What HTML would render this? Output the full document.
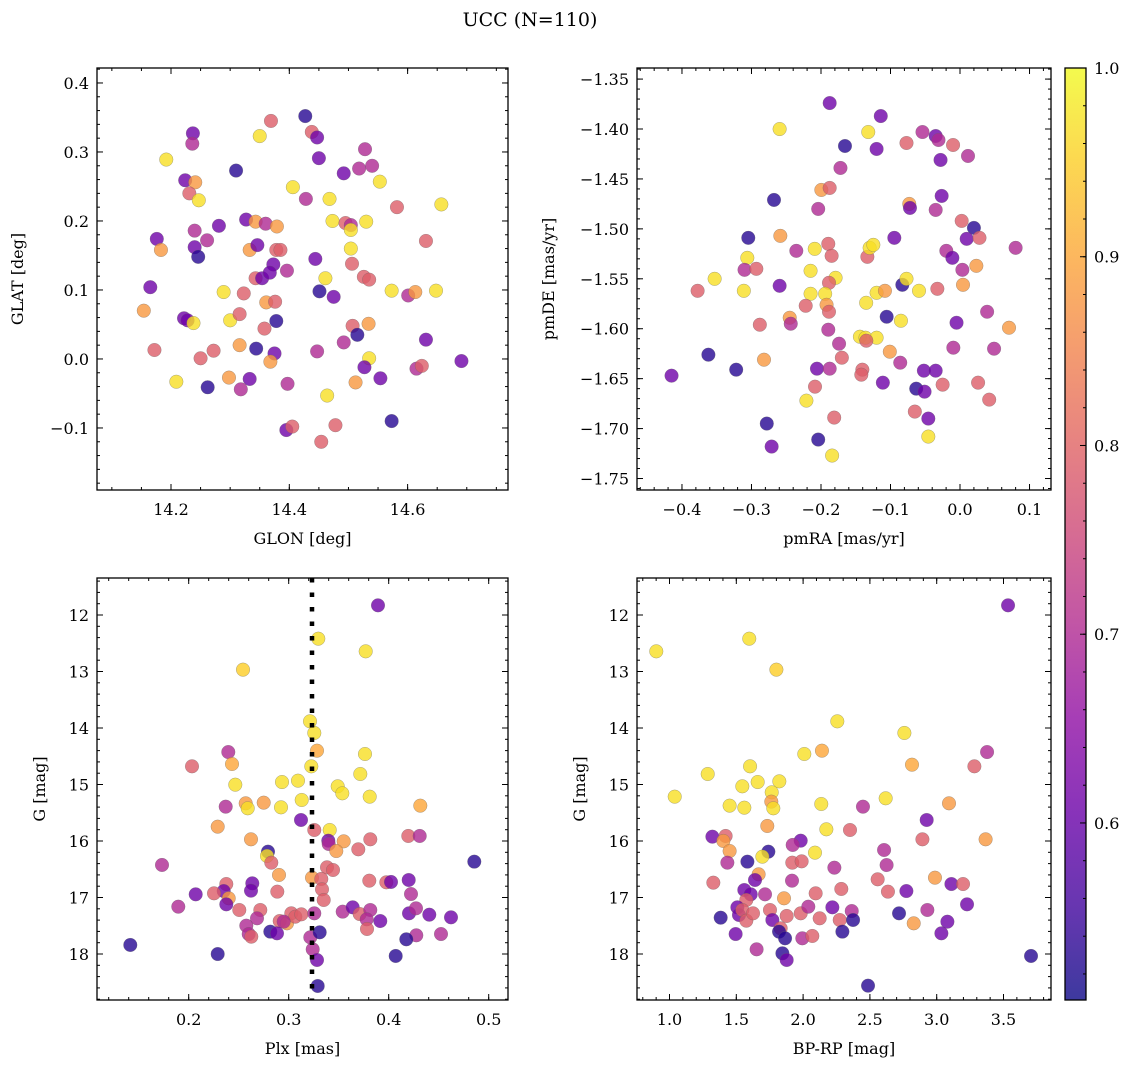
<!DOCTYPE html>
<html><head><meta charset="utf-8">
<style>
html,body{margin:0;padding:0;background:#fff;}
svg{display:block;font-family:"DejaVu Serif","Liberation Serif",serif;}
</style></head>
<body>
<svg id="fig" width="1136" height="1067" viewBox="0 0 1136 1067" xmlns="http://www.w3.org/2000/svg">
<rect x="0" y="0" width="1136" height="1067" fill="#fff"/>
<text x="530" y="26" font-size="19" text-anchor="middle">UCC (N=110)</text>
<defs>
<linearGradient id="plasmaGrad" x1="0" y1="1" x2="0" y2="0">
<stop offset="0" stop-color="#0d0887"/><stop offset="0.1" stop-color="#41049d"/><stop offset="0.2" stop-color="#6a00a8"/><stop offset="0.3" stop-color="#8f0da4"/><stop offset="0.4" stop-color="#b12a90"/><stop offset="0.5" stop-color="#cc4778"/><stop offset="0.6" stop-color="#e16462"/><stop offset="0.7" stop-color="#f2844b"/><stop offset="0.8" stop-color="#fca636"/><stop offset="0.9" stop-color="#fcce25"/><stop offset="1" stop-color="#f0f921"/>
</linearGradient>
</defs>
</svg>
<script>
// ---- Panel 1: GLON vs GLAT ----
const glon = [14.427,14.369,14.438,14.447,14.237,14.236,14.350,14.450,14.192,14.310,14.528,14.518,14.540,14.492,14.553,14.224,14.241,14.231,14.247,14.406,14.428,14.468,14.582,14.657,14.327,14.343,14.360,14.379,14.473,14.495,14.504,14.504,14.530,14.631,14.176,14.183,14.240,14.261,14.281,14.240,14.246,14.333,14.346,14.378,14.385,14.444,14.504,14.506,14.373,
14.343,14.354,14.367,14.396,14.461,14.526,14.535,14.165,14.289,14.323,14.361,14.376,14.451,14.475,14.573,14.601,14.613,14.648,14.154,14.222,14.228,14.238,14.300,14.316,14.358,14.378,14.507,14.534,14.515,14.492,14.631,14.172,14.250,14.272,14.316,14.344,14.375,14.368,14.447,14.535,14.527,14.615,14.624,14.691,14.209,14.262,14.298,14.333,14.318,14.397,14.512,14.554,14.464,14.573,14.395,14.405,14.478,14.454];
const glat = [0.352,0.345,0.329,0.321,0.327,0.312,0.323,0.291,0.289,0.273,0.304,0.276,0.280,0.269,0.257,0.259,0.256,0.240,0.230,0.249,0.232,0.232,0.220,0.224,0.202,0.199,0.196,0.192,0.200,0.197,0.194,0.187,0.199,0.171,0.174,0.158,0.186,0.172,0.193,0.162,0.148,0.158,0.165,0.158,0.158,0.145,0.160,0.138,0.137,
0.117,0.117,0.125,0.128,0.117,0.119,0.115,0.104,0.097,0.095,0.082,0.083,0.098,0.090,0.099,0.092,0.097,0.099,0.070,0.059,0.056,0.052,0.056,0.065,0.044,0.055,0.048,0.051,0.035,0.024,0.028,0.013,0.001,0.012,0.020,0.015,0.008,-0.004,0.011,0.001,-0.012,-0.014,-0.010,-0.003,-0.033,-0.041,-0.027,-0.029,-0.044,-0.036,-0.034,-0.028,-0.053,-0.090,-0.103,-0.098,-0.096,-0.120];
const prob1 = [0.53,0.79,0.79,0.61,0.61,0.70,0.97,0.61,0.97,0.53,0.70,0.70,0.70,0.61,0.97,0.61,0.88,0.79,0.97,0.97,0.70,0.97,0.79,0.97,0.61,0.88,0.70,0.88,0.97,0.79,0.70,0.97,0.97,0.79,0.61,0.88,0.70,0.70,0.61,0.61,0.53,0.88,0.61,0.79,0.79,0.61,0.97,0.79,0.61,
0.79,0.61,0.61,0.70,0.97,0.79,0.79,0.61,0.97,0.79,0.88,0.79,0.53,0.61,0.97,0.70,0.88,0.97,0.88,0.61,0.61,0.97,0.97,0.79,0.79,0.53,0.79,0.88,0.53,0.70,0.61,0.79,0.79,0.79,0.88,0.53,0.61,0.88,0.70,0.97,0.61,0.70,0.79,0.61,0.97,0.53,0.88,0.61,0.70,0.70,0.88,0.61,0.97,0.53,0.61,0.79,0.79,0.79];

// ---- Panel 2: pmRA vs pmDE ----
const pmra = [-0.1875,-0.2595,-0.114,-0.132,-0.1655,-0.120,-0.054,-0.035,-0.031,-0.010,-0.077,-0.028,0.0115,-0.172,-0.1995,-0.1875,-0.2676,-0.204,-0.073,-0.072,-0.0264,-0.035,0.0024,0.020,0.0096,0.028,-0.3046,-0.2585,-0.2355,-0.209,-0.1895,-0.1847,-0.1333,-0.130,-0.1247,-0.0945,-0.0197,-0.011,0.080,0.0034,0.0235,-0.306,-0.310,-0.293,-0.215,
-0.353,-0.3775,-0.311,-0.2595,-0.179,-0.1885,-0.215,-0.194,-0.192,-0.1885,-0.222,-0.245,-0.2435,-0.288,-0.362,-0.415,-0.322,-0.282,-0.2058,-0.1875,-0.174,-0.170,-0.1895,-0.135,-0.120,-0.108,-0.083,-0.077,-0.059,-0.0326,0.0043,0.039,-0.005,0.0705,-0.0096,0.049,-0.1055,-0.085,-0.144,-0.136,-0.120,-0.1348,-0.101,-0.086,-0.1405,-0.142,-0.111,-0.052,-0.035,-0.063,-0.051,-0.025,0.026,0.042,-0.065,-0.0456,-0.0456,-0.2086,-0.221,-0.181,-0.278,-0.271,-0.204,-0.184];
const pmde = [-1.374,-1.400,-1.387,-1.403,-1.417,-1.420,-1.403,-1.407,-1.411,-1.416,-1.414,-1.431,-1.427,-1.439,-1.461,-1.459,-1.471,-1.480,-1.475,-1.479,-1.467,-1.481,-1.492,-1.499,-1.510,-1.509,-1.509,-1.507,-1.522,-1.520,-1.515,-1.527,-1.528,-1.519,-1.516,-1.509,-1.522,-1.529,-1.519,-1.541,-1.537,-1.529,-1.541,-1.540,-1.542,
-1.550,-1.562,-1.562,-1.557,-1.549,-1.554,-1.565,-1.565,-1.576,-1.583,-1.577,-1.589,-1.595,-1.596,-1.626,-1.647,-1.641,-1.631,-1.640,-1.640,-1.615,-1.629,-1.601,-1.574,-1.564,-1.562,-1.556,-1.550,-1.562,-1.560,-1.556,-1.583,-1.594,-1.599,-1.619,-1.620,-1.588,-1.592,-1.608,-1.609,-1.609,-1.612,-1.623,-1.634,-1.641,-1.646,-1.654,-1.642,-1.642,-1.660,-1.663,-1.656,-1.654,-1.671,-1.683,-1.690,-1.708,-1.658,-1.672,-1.689,-1.695,-1.718,-1.711,-1.727];
const prob2 = [0.61,0.97,0.61,0.97,0.53,0.61,0.70,0.61,0.70,0.79,0.79,0.61,0.70,0.70,0.88,0.79,0.53,0.70,0.88,0.61,0.61,0.70,0.79,0.53,0.61,0.79,0.53,0.88,0.70,0.97,0.79,0.79,0.79,0.97,0.97,0.61,0.70,0.61,0.70,0.70,0.88,0.97,0.70,0.79,0.97,
0.97,0.79,0.97,0.61,0.97,0.79,0.97,0.97,0.88,0.79,0.79,0.88,0.70,0.79,0.53,0.61,0.53,0.88,0.61,0.70,0.70,0.79,0.70,0.97,0.97,0.88,0.53,0.97,0.97,0.79,0.88,0.70,0.61,0.88,0.70,0.70,0.53,0.97,0.97,0.97,0.97,0.79,0.88,0.70,0.79,0.79,0.61,0.61,0.61,0.53,0.61,0.79,0.79,0.79,0.79,0.61,0.97,0.79,0.97,0.79,0.53,0.61,0.53,0.97];

// ---- Panel 3: Plx vs G ----
const plx = [0.3893,0.3296,0.377,0.2543,0.3213,0.3256,0.3283,0.3763,0.2396,0.3226,0.3716,0.2033,0.2433,0.2466,0.2933,0.3093,0.349,
0.3536,0.381,0.237,0.257,0.259,0.275,0.2923,0.313,0.4316,0.3123,0.229,0.2623,0.3256,0.341,0.3396,0.34,0.355,0.3476,0.3696,0.3816,0.4196,0.431,0.2793,0.2783,0.2826,0.1733,0.4856,0.3383,0.3443,0.2903,0.3233,0.3326,0.3333,0.335,0.3806,0.3976,0.4023,0.42,0.4223,0.2376,0.235,0.2636,0.2623,0.2253,0.240,0.2376,0.207,0.2886,0.1896,0.2506,0.2716,0.2683,0.2576,0.260,0.2626,0.291,0.2983,0.3026,0.3066,0.3126,0.295,0.2816,0.2883,0.3256,0.354,0.364,0.371,0.3816,0.378,0.3783,0.3916,0.4203,0.4273,0.4406,0.4623,0.4523,0.4276,0.4176,0.407,0.3216,0.331,0.324,0.3283,0.329,0.1416,0.229];
const gmag3 = [11.829,12.419,12.643,12.967,13.882,14.088,14.401,14.460,14.425,14.678,14.814,14.678,14.637,15.003,14.956,14.932,15.032,
15.156,15.215,15.392,15.333,15.421,15.321,15.404,15.274,15.374,15.628,15.746,15.970,15.805,15.805,15.994,16.053,16.006,16.177,16.147,15.970,15.911,15.911,16.188,16.265,16.383,16.424,16.365,16.466,16.513,16.601,16.649,16.672,16.855,17.044,16.702,16.731,16.725,16.690,16.938,16.761,16.885,16.749,16.879,16.926,17.014,17.121,16.944,16.896,17.162,17.221,17.221,17.368,17.498,17.646,17.693,17.416,17.457,17.280,17.339,17.298,17.427,17.604,17.634,17.280,17.250,17.174,17.292,17.221,17.386,17.557,17.416,17.280,17.192,17.304,17.351,17.646,17.669,17.740,18.035,17.705,17.616,17.917,18.106,18.566,17.840,18.000];
const prob3 = [0.61,0.97,0.97,0.95,0.97,0.97,0.90,0.97,0.70,0.97,0.97,0.79,0.90,0.97,0.97,0.97,0.97,
0.97,0.97,0.70,0.88,0.97,0.88,0.97,0.97,0.90,0.61,0.88,0.88,0.79,0.97,0.61,0.70,0.88,0.88,0.79,0.79,0.79,0.70,0.53,0.97,0.79,0.70,0.53,0.79,0.79,0.88,0.88,0.79,0.79,0.79,0.79,0.79,0.61,0.61,0.70,0.79,0.61,0.61,0.61,0.79,0.88,0.61,0.61,0.79,0.70,0.79,0.79,0.70,0.70,0.70,0.79,0.79,0.88,0.79,0.79,0.79,0.70,0.53,0.61,0.70,0.70,0.61,0.79,0.70,0.70,0.79,0.61,0.61,0.70,0.61,0.61,0.70,0.70,0.53,0.53,0.70,0.53,0.70,0.61,0.53,0.53,0.53];

// ---- Panel 4: BP-RP vs G ----
const bprp = [3.534,0.901,1.597,1.800,2.256,2.758,3.377,3.282,2.815,2.141,2.009,1.603,1.286,1.545,1.660,1.822,
1.039,1.450,1.560,1.765,1.762,1.777,2.136,2.618,2.448,3.092,1.732,2.174,2.351,2.925,1.321,1.420,1.403,1.450,1.433,1.583,1.740,1.695,1.667,1.982,1.922,1.919,1.989,2.089,2.234,1.917,1.328,1.560,1.640,1.608,1.575,1.715,1.857,2.094,2.286,1.508,1.520,1.545,1.575,1.625,1.383,1.495,1.652,1.752,1.770,1.832,1.820,1.865,1.845,1.877,1.877,1.982,2.039,2.124,1.994,2.069,2.219,2.274,2.364,2.374,2.294,2.558,2.606,2.625,2.635,2.773,2.718,2.828,2.930,2.893,2.987,3.110,3.197,3.227,3.080,3.035,3.366,3.706,2.486];
const gmag4 = [11.829,12.643,12.419,12.967,13.882,14.088,14.425,14.678,14.649,14.401,14.460,14.678,14.814,15.032,14.956,14.944,
15.215,15.374,15.410,15.138,15.303,15.421,15.345,15.244,15.392,15.333,15.734,15.793,15.805,15.628,15.923,15.911,15.999,16.177,16.383,16.365,16.188,16.277,16.590,15.994,16.070,16.383,16.360,16.206,16.472,16.702,16.737,16.867,16.690,16.944,17.044,16.944,17.014,16.926,16.849,17.174,17.309,17.221,17.410,17.280,17.357,17.646,17.917,17.221,17.398,17.545,17.604,17.722,17.988,18.106,17.327,17.280,17.162,17.368,17.722,17.681,17.174,17.398,17.239,17.398,17.604,16.678,16.159,16.425,16.896,16.885,17.280,17.457,17.221,15.970,16.649,16.761,16.761,17.121,17.428,17.634,15.970,18.035,18.560];
const prob4 = [0.61,0.97,0.97,0.95,0.97,0.97,0.70,0.79,0.90,0.90,0.97,0.97,0.97,0.97,0.97,0.97,
0.97,0.97,0.97,0.97,0.88,0.97,0.97,0.97,0.70,0.88,0.88,0.97,0.79,0.61,0.61,0.79,0.88,0.88,0.70,0.53,0.53,0.97,0.88,0.61,0.70,0.79,0.79,0.97,0.70,0.70,0.79,0.61,0.61,0.61,0.79,0.70,0.88,0.79,0.79,0.61,0.61,0.79,0.79,0.79,0.53,0.61,0.70,0.79,0.61,0.79,0.53,0.53,0.53,0.61,0.79,0.79,0.70,0.79,0.70,0.79,0.61,0.79,0.70,0.53,0.53,0.79,0.70,0.70,0.79,0.61,0.53,0.88,0.70,0.79,0.88,0.61,0.79,0.61,0.61,0.61,0.88,0.53,0.53];

// ---- Tick labels ----
const p1xTicks = [14.2,14.4,14.6];
const p1yTicks = [-0.1,0.0,0.1,0.2,0.3,0.4];
const p2xTicks = [-0.4,-0.3,-0.2,-0.1,0.0,0.1];
const p2yTicks = [-1.75,-1.70,-1.65,-1.60,-1.55,-1.50,-1.45,-1.40,-1.35];
const p3xTicks = [0.2,0.3,0.4,0.5];
const gTicks = [12,13,14,15,16,17,18];
const p4xTicks = [1.0,1.5,2.0,2.5,3.0,3.5];
const cbTicks = [0.6,0.7,0.8,0.9,1.0];
const plxRef = [0.3233];
const cbRange = [0.5062, 1.0];

const NS = "http://www.w3.org/2000/svg";
const svg = document.getElementById("fig");
function mk(tag, attrs, parent){
  const e = document.createElementNS(NS, tag);
  for (const k in attrs) e.setAttribute(k, attrs[k]);
  (parent||svg).appendChild(e);
  return e;
}
const plasmaStops = [[13,8,135],[65,4,157],[106,0,168],[143,13,164],[177,42,144],[204,71,120],[225,100,98],[242,132,75],[252,166,54],[252,206,37],[240,249,33]];
function plasma(t){
  t = Math.max(0, Math.min(1, t));
  const f = t*10, i = Math.min(9, Math.floor(f)), r = f - i;
  const a = plasmaStops[i], b = plasmaStops[i+1];
  return "rgb(" + [0,1,2].map(k => Math.round(a[k] + (b[k]-a[k])*r)).join(",") + ")";
}
function colorOf(p){ return plasma((p - cbRange[0])/(cbRange[1]-cbRange[0])); }
function fmtMinus(s){ return s.replace("-", "\u2212"); }

function panel(cfg){
  const {name, box, xd, yd, xMaj, yMaj, xMinStep, yMinStep, xDec, yDec, xs, ys, ps, xTitle, yTitle, yTitleX} = cfg;
  const [L,R,T,B] = box;
  const g = mk("g", {});
  
  
  const sx = v => L + (v - xd[0])/(xd[1]-xd[0])*(R-L);
  const sy = v => T + (v - yd[0])/(yd[1]-yd[0])*(B-T);
  const tg = mk("g", {stroke:"#000","stroke-width":"1"}, g);
  
  
  const xlo = Math.min(xd[0],xd[1]), xhi = Math.max(xd[0],xd[1]);
  for (let v = Math.ceil(xlo/xMinStep)*xMinStep; v <= xhi+1e-9; v += xMinStep){
    const x = sx(v);
    mk("line",{x1:x,x2:x,y1:B,y2:B-3},tg); mk("line",{x1:x,x2:x,y1:T,y2:T+3},tg);
  }
  const ylo = Math.min(yd[0],yd[1]), yhi = Math.max(yd[0],yd[1]);
  for (let v = Math.ceil(ylo/yMinStep-1e-6)*yMinStep; v <= yhi+1e-9; v += yMinStep){
    const y = sy(v);
    mk("line",{x1:L,x2:L+3,y1:y,y2:y},tg); mk("line",{x1:R,x2:R-3,y1:y,y2:y},tg);
  }
  xMaj.forEach(v => {
    const x = sx(v);
    mk("line",{x1:x,x2:x,y1:B,y2:B-6},tg); mk("line",{x1:x,x2:x,y1:T,y2:T+6},tg);
    const t = mk("text",{x:x,y:B+25,"font-size":"16","text-anchor":"middle"},g);
    
    
    t.textContent = fmtMinus(v.toFixed(xDec));
  });
  yMaj.forEach(v => {
    const y = sy(v);
    mk("line",{x1:L,x2:L+6,y1:y,y2:y},tg); mk("line",{x1:R,x2:R-6,y1:y,y2:y},tg);
    const t = mk("text",{x:L-8,y:y+6,"font-size":"16","text-anchor":"end"},g);
    
    
    t.textContent = fmtMinus(v.toFixed(yDec));
  });
  const pg = mk("g", {}, g);
  
  
  for (let i = 0; i < xs.length; i++){
    const c = mk("circle",{cx:sx(xs[i]),cy:sy(ys[i]),r:"6.8",fill:colorOf(ps[i]),"fill-opacity":"0.8",stroke:"#666","stroke-opacity":"0.55","stroke-width":"0.5"},pg);
    
    
  }
  if (cfg.vline){
    cfg.vline.forEach(v => {
      const l = mk("line",{x1:sx(v),x2:sx(v),y1:T,y2:B,stroke:"#000","stroke-width":"4.5","stroke-dasharray":"4.5 10"},g);
      
      
    });
  }
  const fr = mk("rect",{x:L,y:T,width:R-L,height:B-T,fill:"none",stroke:"#000","stroke-width":"1.3"},g);
  
  
  const xt = mk("text",{x:(L+R)/2,y:B+54,"font-size":"16","text-anchor":"middle"},g);
  
  
  xt.textContent = xTitle;
  const yc = (T+B)/2;
  const yt = mk("text",{x:yTitleX,y:yc,"font-size":"16","text-anchor":"middle",transform:`rotate(-90 ${yTitleX} ${yc})`},g);
  
  
  yt.textContent = yTitle;
}

panel({name:"glon-glat-panel", box:[97,508,68,490], xd:[14.0749,14.7697], yd:[0.4217,-0.1899],
  xMaj:p1xTicks, yMaj:p1yTicks, xMinStep:0.05, yMinStep:0.02, xDec:1, yDec:1,
  xs:glon, ys:glat, ps:prob1, xTitle:"GLON [deg]", yTitle:"GLAT [deg]", yTitleX:23});
panel({name:"pm-panel", box:[637,1051,68,490], xd:[-0.4647,0.1309], yd:[-1.3389,-1.7615],
  xMaj:p2xTicks, yMaj:p2yTicks, xMinStep:0.02, yMinStep:0.01, xDec:1, yDec:2,
  xs:pmra, ys:pmde, ps:prob2, xTitle:"pmRA [mas/yr]", yTitle:"pmDE [mas/yr]", yTitleX:554});
panel({name:"plx-g-panel", box:[97,508,578,1000], xd:[0.1083,0.5193], yd:[11.345,18.814],
  xMaj:p3xTicks, yMaj:gTicks, xMinStep:0.02, yMinStep:0.2, xDec:1, yDec:0,
  xs:plx, ys:gmag3, ps:prob3, xTitle:"Plx [mas]", yTitle:"G [mag]", yTitleX:45, vline:plxRef});
panel({name:"cmd-panel", box:[637,1051,578,1000], xd:[0.7567,3.8555], yd:[11.345,18.814],
  xMaj:p4xTicks, yMaj:gTicks, xMinStep:0.1, yMinStep:0.2, xDec:1, yDec:0,
  xs:bprp, ys:gmag4, ps:prob4, xTitle:"BP-RP [mag]", yTitle:"G [mag]", yTitleX:585});

// ---- Colorbar ----
(function(){
  const L=1065, R=1086, T=68, B=1000;
  const g = mk("g",{});
  
  
  mk("rect",{x:L,y:T,width:R-L,height:B-T,fill:"url(#plasmaGrad)","fill-opacity":"0.8"},g);
  const sy = v => B - (v - cbRange[0])/(cbRange[1]-cbRange[0])*(B-T);
  for (let v = 0.52; v <= 1.0001; v += 0.02){
    const y = sy(v);
    mk("line",{x1:R,x2:R-3,y1:y,y2:y,stroke:"#000","stroke-width":"1"},g);
  }
  cbTicks.forEach(v => {
    const y = sy(v);
    mk("line",{x1:R,x2:R-6,y1:y,y2:y,stroke:"#000","stroke-width":"1"},g);
    const t = mk("text",{x:R+8,y:y+6,"font-size":"16"},g);
    
    
    t.textContent = v.toFixed(1);
  });
  mk("rect",{x:L,y:T,width:R-L,height:B-T,fill:"none",stroke:"#000","stroke-width":"1.3"},g);
})();
</script>
</body></html>
